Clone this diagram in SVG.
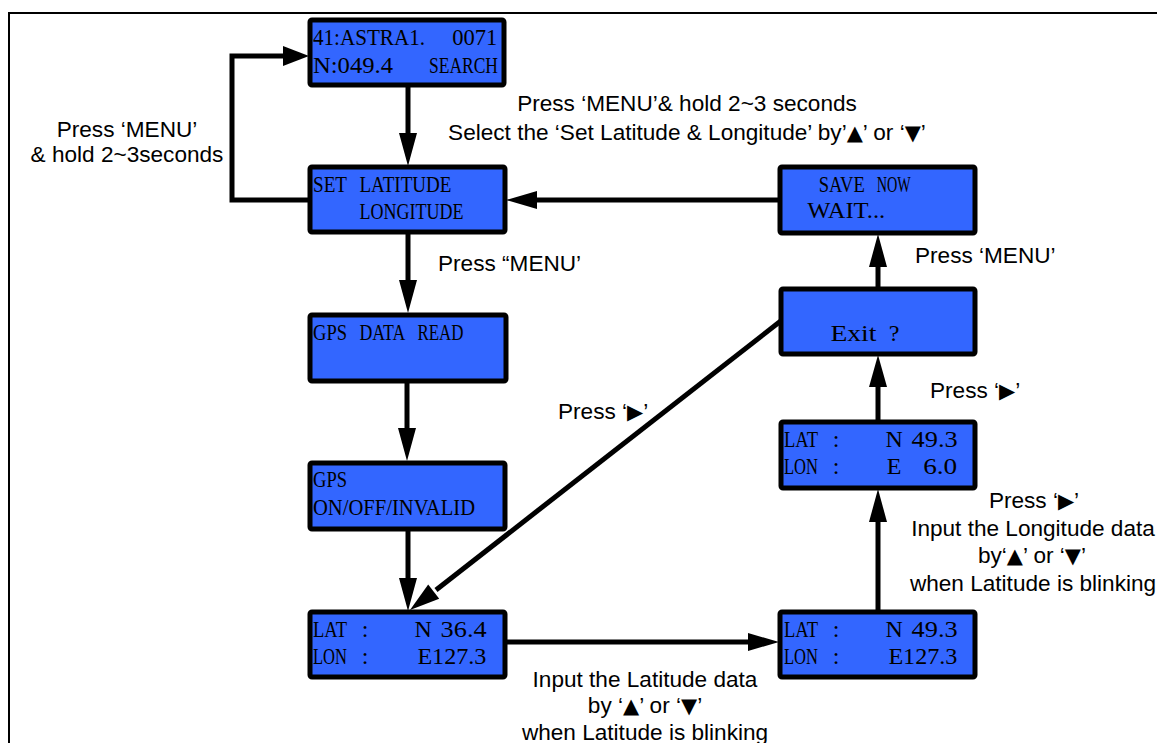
<svg xmlns="http://www.w3.org/2000/svg" width="1157" height="743" viewBox="0 0 1157 743">
<style>
.box{fill:#3366FF;stroke:#000;stroke-width:5;}
.lcd{font-family:"Liberation Serif","DejaVu Serif",serif;font-size:24px;fill:#000;}
.c{text-anchor:middle;}
.lbl{font-family:"Liberation Sans","DejaVu Sans",sans-serif;font-size:22.6px;fill:#000;}
.mid{text-anchor:middle;}
.ln{fill:none;stroke:#000;stroke-width:5;}
.ah{fill:#000;stroke:none;}
.sym{font-family:"DejaVu Sans",sans-serif;font-size:21px;}
</style>
<rect width="1157" height="743" fill="#fff"/>
<path d="M9,743 V13 H1157" fill="none" stroke="#000" stroke-width="2"/>

<g id="connectors">
  <line class="ln" x1="408" y1="85" x2="408" y2="136"/>
  <polygon class="ah" points="399,133 417,133 408,166"/>
  <polyline class="ln" points="310,200 232,200 232,56 286,56"/>
  <polygon class="ah" points="283,46 309,56 283,66"/>
  <line class="ln" x1="408" y1="232" x2="408" y2="283"/>
  <polygon class="ah" points="399,280 417,280 408,313"/>
  <line class="ln" x1="407" y1="381" x2="407" y2="431"/>
  <polygon class="ah" points="398,428 416,428 407,461"/>
  <line class="ln" x1="408" y1="529" x2="408" y2="581"/>
  <polygon class="ah" points="399,578 417,578 408,611"/>
  <line class="ln" x1="505" y1="642" x2="751" y2="642"/>
  <polygon class="ah" points="748,633 748,651 779,642"/>
  <line class="ln" x1="878" y1="612" x2="878" y2="519"/>
  <polygon class="ah" points="869,522 887,522 878,489"/>
  <line class="ln" x1="878" y1="422" x2="878" y2="384"/>
  <polygon class="ah" points="869,387 887,387 878,355"/>
  <line class="ln" x1="878" y1="288" x2="878" y2="264"/>
  <polygon class="ah" points="869,267 887,267 878,234"/>
  <line class="ln" x1="780" y1="200" x2="534" y2="200"/>
  <polygon class="ah" points="537,191 537,209 506,200"/>
  <line class="ln" x1="782" y1="320" x2="436" y2="590"/>
  <polygon class="ah" points="439.2,598.7 428.2,584.5 410,610"/>
</g>

<g id="n1">
  <rect class="box" x="310" y="20" width="194" height="65" rx="2"/>
  <text class="lcd" x="313" y="45" textLength="112" lengthAdjust="spacingAndGlyphs">41:ASTRA1.</text>
  <text class="lcd" x="452.2" y="45" textLength="45" lengthAdjust="spacingAndGlyphs">0071</text>
  <text class="lcd" x="313" y="73" textLength="80" lengthAdjust="spacingAndGlyphs">N:049.4</text>
  <text class="lcd" x="429" y="73" textLength="69" lengthAdjust="spacingAndGlyphs">SEARCH</text>
</g>
<g id="n2">
  <rect class="box" x="310" y="167" width="195" height="65" rx="2"/>
  <text class="lcd" x="313" y="192" textLength="34" lengthAdjust="spacingAndGlyphs">SET</text>
  <text class="lcd" x="359.4" y="192" textLength="92" lengthAdjust="spacingAndGlyphs">LATITUDE</text>
  <text class="lcd" x="359.4" y="219" textLength="104" lengthAdjust="spacingAndGlyphs">LONGITUDE</text>
</g>
<g id="n3">
  <rect class="box" x="310" y="315" width="196" height="66" rx="2"/>
  <text class="lcd" x="313" y="340" textLength="34" lengthAdjust="spacingAndGlyphs">GPS</text>
  <text class="lcd" x="359.4" y="340" textLength="46" lengthAdjust="spacingAndGlyphs">DATA</text>
  <text class="lcd" x="417.4" y="340" textLength="46" lengthAdjust="spacingAndGlyphs">READ</text>
</g>
<g id="n4">
  <rect class="box" x="310" y="463" width="195" height="66" rx="2"/>
  <text class="lcd" x="313" y="487" textLength="34" lengthAdjust="spacingAndGlyphs">GPS</text>
  <text class="lcd" x="313" y="515" textLength="162" lengthAdjust="spacingAndGlyphs">ON/OFF/INVALID</text>
</g>
<g id="n5">
  <rect class="box" x="310" y="612" width="195" height="65" rx="2"/>
  <text class="lcd" x="313" y="637" textLength="34" lengthAdjust="spacingAndGlyphs">LAT</text>
  <text class="lcd c" x="365.2" y="637">:</text>
  <text class="lcd c" x="423.2" y="637">N</text>
  <text class="lcd" x="440.6" y="637" textLength="46" lengthAdjust="spacingAndGlyphs">36.4</text>
  <text class="lcd" x="313" y="664" textLength="34" lengthAdjust="spacingAndGlyphs">LON</text>
  <text class="lcd c" x="365.2" y="664">:</text>
  <text class="lcd" x="417.4" y="664" textLength="69" lengthAdjust="spacingAndGlyphs">E127.3</text>
</g>
<g id="n6">
  <rect class="box" x="780" y="612" width="195" height="65" rx="2"/>
  <text class="lcd" x="784" y="637" textLength="34" lengthAdjust="spacingAndGlyphs">LAT</text>
  <text class="lcd c" x="836.2" y="637">:</text>
  <text class="lcd c" x="894.2" y="637">N</text>
  <text class="lcd" x="911.6" y="637" textLength="46" lengthAdjust="spacingAndGlyphs">49.3</text>
  <text class="lcd" x="784" y="664" textLength="34" lengthAdjust="spacingAndGlyphs">LON</text>
  <text class="lcd c" x="836.2" y="664">:</text>
  <text class="lcd" x="888.4" y="664" textLength="69" lengthAdjust="spacingAndGlyphs">E127.3</text>
</g>
<g id="n7">
  <rect class="box" x="781" y="422" width="194" height="66" rx="2"/>
  <text class="lcd" x="784" y="447" textLength="34" lengthAdjust="spacingAndGlyphs">LAT</text>
  <text class="lcd c" x="836.2" y="447">:</text>
  <text class="lcd c" x="894.2" y="447">N</text>
  <text class="lcd" x="911.6" y="447" textLength="46" lengthAdjust="spacingAndGlyphs">49.3</text>
  <text class="lcd" x="784" y="474" textLength="34" lengthAdjust="spacingAndGlyphs">LON</text>
  <text class="lcd c" x="836.2" y="474">:</text>
  <text class="lcd c" x="894.2" y="474">E</text>
  <text class="lcd" x="923.2" y="474" textLength="34" lengthAdjust="spacingAndGlyphs">6.0</text>
</g>
<g id="n8">
  <rect class="box" x="781" y="289" width="194" height="65" rx="2"/>
  <text class="lcd" x="830.4" y="341" textLength="46" lengthAdjust="spacingAndGlyphs">Exit</text>
  <text class="lcd c" x="894.2" y="341">?</text>
</g>
<g id="n9">
  <rect class="box" x="780" y="167" width="195" height="66" rx="2"/>
  <text class="lcd" x="818.8" y="192" textLength="46" lengthAdjust="spacingAndGlyphs">SAVE</text>
  <text class="lcd" x="876.8" y="192" textLength="34" lengthAdjust="spacingAndGlyphs">NOW</text>
  <text class="lcd" x="807.2" y="218" textLength="78" lengthAdjust="spacingAndGlyphs">WAIT...</text>
</g>

<g id="labels">
  <text class="lbl mid" x="127" y="137">Press ‘MENU’</text>
  <text class="lbl mid" x="127" y="162">&amp; hold 2~3seconds</text>
  <text class="lbl mid" x="687" y="111">Press ‘MENU’&amp; hold 2~3 seconds</text>
  <text class="lbl mid" x="687" y="140">Select the ‘Set Latitude &amp; Longitude’ by’<tspan class="sym">▲</tspan>’ or ‘<tspan class="sym">▼</tspan>’</text>
  <text class="lbl" x="438" y="271">Press “MENU’</text>
  <text class="lbl" x="915" y="263">Press ‘MENU’</text>
  <text class="lbl" x="930" y="398">Press ‘<tspan class="sym">▶</tspan>’</text>
  <text class="lbl" x="558" y="419">Press ‘<tspan class="sym">▶</tspan>’</text>
  <text class="lbl mid" x="1034" y="508">Press ‘<tspan class="sym">▶</tspan>’</text>
  <text class="lbl mid" x="1033" y="536">Input the Longitude data</text>
  <text class="lbl mid" x="1032" y="563">by‘<tspan class="sym">▲</tspan>’ or ‘<tspan class="sym">▼</tspan>’</text>
  <text class="lbl mid" x="1033" y="591">when Latitude is blinking</text>
  <text class="lbl mid" x="645" y="687">Input the Latitude data</text>
  <text class="lbl mid" x="645" y="713">by ‘<tspan class="sym">▲</tspan>’ or ‘<tspan class="sym">▼</tspan>’</text>
  <text class="lbl mid" x="645" y="740">when Latitude is blinking</text>
</g>
</svg>
